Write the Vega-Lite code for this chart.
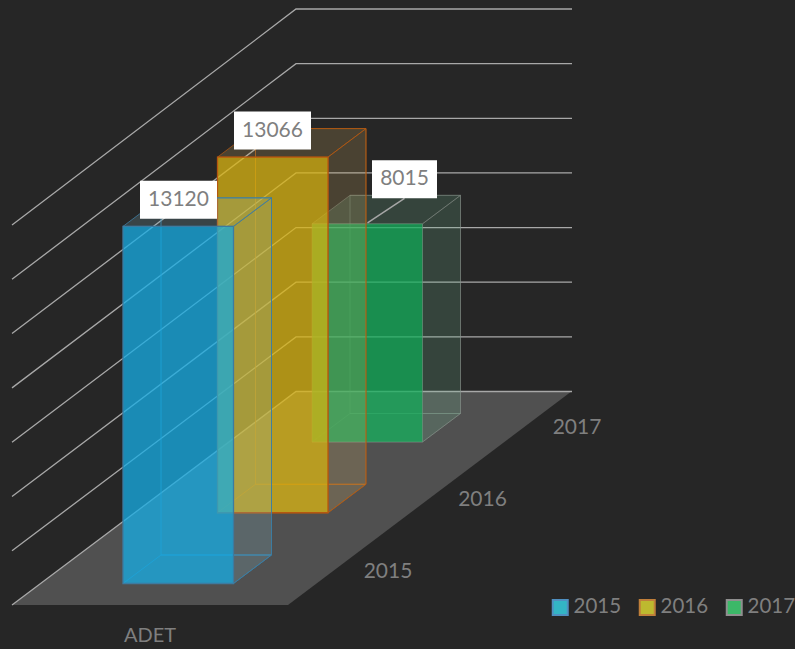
{"$schema":"https://vega.github.io/schema/vega-lite/v6.json","width":795,"height":649,"autosize":{"type":"fit","contains":"padding"},"padding":0,"background":"#262626","config":{"view":{"stroke":null}},
"datasets":{"bars":[{"year":"2015","value":13120},{"year":"2016","value":13066},{"year":"2017","value":8015}],"ticks":[{"tick":0},{"tick":2000},{"tick":4000},{"tick":6000},{"tick":8000},{"tick":10000},{"tick":12000},{"tick":14000}],"category":[{"category":"ADET"}]},
"layer":[
{"data":{"values":[{"t":0},{"t":1}]},"transform":[{"calculate":"605-214*datum.t","as":"y"},{"calculate":"12+284*datum.t","as":"xa"},{"calculate":"288+284*datum.t","as":"xb"}],"mark":{"type":"area","orient":"horizontal","fill":"#505050"},"encoding":{"y":{"field":"y","type":"quantitative","scale":{"domain":[649,0],"nice":false,"zero":false},"axis":null},"x":{"field":"xa","type":"quantitative","scale":{"domain":[0,795],"nice":false,"zero":false},"axis":null},"x2":{"field":"xb"}}},
{"data":{"name":"ticks"},"transform":[{"calculate":"[0,1,2]","as":"p"},{"flatten":["p"]},{"calculate":"[12,296,572][datum.p]","as":"x"},{"calculate":"datum.p==0?605-datum.tick*0.02714:391.5-datum.tick*0.02732","as":"y"}],"mark":{"type":"line","stroke":"#a8a8a8","strokeWidth":1.3,"interpolate":"linear"},"encoding":{"x":{"field":"x","type":"quantitative","scale":{"domain":[0,795],"nice":false,"zero":false},"axis":null},"y":{"field":"y","type":"quantitative","scale":{"domain":[649,0],"nice":false,"zero":false},"axis":null},"detail":{"field":"tick"},"order":{"field":"p"}}},
{"data":{"name":"bars"},"transform":[{"calculate":"[0,1]","as":"t"},{"flatten":["t"]},{"calculate":"indexof(['2015','2016','2017'],datum.year)","as":"depth"},{"calculate":"123+94.5*datum.depth","as":"xl"},{"calculate":"datum.xl+110.5","as":"xr"},{"calculate":"583.5-70.75*datum.depth","as":"yb"},{"calculate":"datum.yb-datum.value*0.02722","as":"yt"},{"calculate":"datum.xl+110.5*datum.t","as":"xf"},{"calculate":"datum.xl+38+110.5*datum.t","as":"xk"},{"calculate":"datum.xl+38*datum.t","as":"xlb"},{"calculate":"datum.xr+38*datum.t","as":"xs"},{"calculate":"datum.yt-28.5*datum.t","as":"yts"},{"calculate":"datum.yb-28.5*datum.t","as":"ybs"},{"calculate":"datum.yt-28.5","as":"ytk"},{"calculate":"datum.yb-28.5","as":"ybk"}],
"encoding":{"x":{"type":"quantitative","scale":{"domain":[0,795],"nice":false,"zero":false},"axis":null},"y":{"type":"quantitative","scale":{"domain":[649,0],"nice":false,"zero":false},"axis":null}},
"layer":[
{"transform":[{"filter":"datum.year=='2017'"}],"layer":[
{"mark":{"type":"area","orient":"vertical","fillOpacity":0,"stroke":"#8a9a90","strokeWidth":1,"strokeOpacity":0.4},"encoding":{"x":{"field":"xk"},"y":{"field":"ytk"},"y2":{"field":"ybk"}}},
{"mark":{"type":"area","orient":"horizontal","fillOpacity":0,"stroke":"#8a9a90","strokeWidth":1,"strokeOpacity":0.4},"encoding":{"y":{"field":"ybs"},"x":{"field":"xlb"},"x2":{"field":"xs"}}},
{"mark":{"type":"area","orient":"vertical","fill":"#71BC94","fillOpacity":0.2,"stroke":"#8a8f8a","strokeWidth":1,"strokeOpacity":0.45},"encoding":{"x":{"field":"xs"},"y":{"field":"yts"},"y2":{"field":"ybs"}}},
{"mark":{"type":"area","orient":"horizontal","fill":"#71BC94","fillOpacity":0.2,"stroke":"#8a8f8a","strokeWidth":1,"strokeOpacity":0.45},"encoding":{"y":{"field":"yts"},"x":{"field":"xlb"},"x2":{"field":"xs"}}},
{"mark":{"type":"area","orient":"vertical","fill":"#16B15E","fillOpacity":0.75,"stroke":"#7f8f85","strokeWidth":1,"strokeOpacity":0.4},"encoding":{"x":{"field":"xf"},"y":{"field":"yt"},"y2":{"field":"yb"}}}
]},
{"transform":[{"filter":"datum.year=='2016'"}],"layer":[
{"mark":{"type":"area","orient":"vertical","fillOpacity":0,"stroke":"#c0620f","strokeWidth":1,"strokeOpacity":0.7},"encoding":{"x":{"field":"xk"},"y":{"field":"ytk"},"y2":{"field":"ybk"}}},
{"mark":{"type":"area","orient":"horizontal","fillOpacity":0,"stroke":"#c0620f","strokeWidth":1,"strokeOpacity":0.7},"encoding":{"y":{"field":"ybs"},"x":{"field":"xlb"},"x2":{"field":"xs"}}},
{"mark":{"type":"area","orient":"vertical","fill":"#DAB262","fillOpacity":0.2,"stroke":"#b5570f","strokeWidth":1,"strokeOpacity":0.7},"encoding":{"x":{"field":"xs"},"y":{"field":"yts"},"y2":{"field":"ybs"}}},
{"mark":{"type":"area","orient":"horizontal","fill":"#DAB262","fillOpacity":0.2,"stroke":"#b5570f","strokeWidth":1,"strokeOpacity":0.7},"encoding":{"y":{"field":"yts"},"x":{"field":"xlb"},"x2":{"field":"xs"}}},
{"mark":{"type":"area","orient":"vertical","fill":"#DBB613","fillOpacity":0.75,"stroke":"#b5570f","strokeWidth":1.3,"strokeOpacity":1},"encoding":{"x":{"field":"xf"},"y":{"field":"yt"},"y2":{"field":"yb"}}}
]},
{"transform":[{"filter":"datum.year=='2015'"}],"layer":[
{"mark":{"type":"area","orient":"vertical","fillOpacity":0,"stroke":"#2a86b5","strokeWidth":1,"strokeOpacity":0.8},"encoding":{"x":{"field":"xk"},"y":{"field":"ytk"},"y2":{"field":"ybk"}}},
{"mark":{"type":"area","orient":"horizontal","fillOpacity":0,"stroke":"#2a86b5","strokeWidth":1,"strokeOpacity":0.8},"encoding":{"y":{"field":"ybs"},"x":{"field":"xlb"},"x2":{"field":"xs"}}},
{"mark":{"type":"area","orient":"vertical","fill":"#87BECD","fillOpacity":0.2,"stroke":"#3d7ba0","strokeWidth":1,"strokeOpacity":0.8},"encoding":{"x":{"field":"xs"},"y":{"field":"yts"},"y2":{"field":"ybs"}}},
{"mark":{"type":"area","orient":"horizontal","fill":"#87BECD","fillOpacity":0.2,"stroke":"#3d7ba0","strokeWidth":1,"strokeOpacity":0.8},"encoding":{"y":{"field":"yts"},"x":{"field":"xlb"},"x2":{"field":"xs"}}},
{"mark":{"type":"area","orient":"vertical","fill":"#17AEE5","fillOpacity":0.75,"stroke":"#3d7ba0","strokeWidth":1.3,"strokeOpacity":1},"encoding":{"x":{"field":"xf"},"y":{"field":"yt"},"y2":{"field":"yb"}}}
]}
]},
{"data":{"name":"bars"},"transform":[{"calculate":"indexof(['2015','2016','2017'],datum.year)","as":"depth"},{"calculate":"583.5-70.75*datum.depth-datum.value*0.02722","as":"yt"},{"calculate":"178.5+94*datum.depth+(datum.year=='2017'?38:0)","as":"lx"},{"calculate":"datum.yt-26.5-(datum.year=='2017'?18:0)","as":"ly"},{"calculate":"datum.lx-(datum.value>=10000?38.5:32.5)","as":"bx"},{"calculate":"datum.lx+(datum.value>=10000?38.5:32.5)","as":"bx2"},{"calculate":"datum.ly-19","as":"by"},{"calculate":"datum.ly+19","as":"by2"},{"calculate":"388+94.5*datum.depth","as":"ax"},{"calculate":"571.5-72*datum.depth","as":"ay"},{"calculate":"datum.yt-1","as":"ly0"},{"calculate":"datum.lx-37","as":"lx0"}],
"encoding":{"x":{"type":"quantitative","scale":{"domain":[0,795],"nice":false,"zero":false},"axis":null},"y":{"type":"quantitative","scale":{"domain":[649,0],"nice":false,"zero":false},"axis":null}},
"layer":[
{"transform":[{"filter":"datum.year=='2017'"}],"mark":{"type":"rule","stroke":"#a6a6a6","strokeWidth":1.5},"encoding":{"x":{"field":"lx0"},"y":{"field":"ly0"},"x2":{"field":"lx"},"y2":{"field":"by2"}}},
{"mark":{"type":"rect","fill":"#ffffff"},"encoding":{"x":{"field":"bx"},"x2":{"field":"bx2"},"y":{"field":"by"},"y2":{"field":"by2"}}},
{"mark":{"type":"text","font":"Lato","fontSize":21,"fill":"#7f7f7f","align":"center","baseline":"middle"},"encoding":{"x":{"field":"lx"},"y":{"field":"ly"},"text":{"field":"value","type":"quantitative","format":"d"}}},
{"mark":{"type":"text","font":"Lato","fontSize":21,"fill":"#7f7f7f","align":"center","baseline":"middle"},"encoding":{"x":{"field":"ax"},"y":{"field":"ay"},"text":{"field":"year","type":"nominal"}}},
{"mark":{"type":"point","filled":true,"shape":"square","opacity":0},"encoding":{"x":{"field":"lx"},"y":{"field":"ly"},
"fill":{"field":"year","type":"nominal","scale":{"domain":["2015","2016","2017"],"range":["#33b5c5","#bdb92f","#3cb868"]},"legend":{"orient":"none","legendX":550,"legendY":597,"direction":"horizontal","columns":3,"title":null,"symbolType":"square","symbolSize":225,"symbolStrokeWidth":2,"symbolOpacity":1,"labelFont":"Lato","labelFontSize":20.5,"labelColor":"#7f7f7f","columnPadding":13,"labelOffset":3,"padding":0}},
"stroke":{"field":"year","type":"nominal","scale":{"domain":["2015","2016","2017"],"range":["#4f8fc0","#c07f3a","#8f8f8f"]},"legend":{"orient":"none","legendX":550,"legendY":597,"direction":"horizontal","columns":3,"title":null,"symbolType":"square","symbolSize":225,"symbolStrokeWidth":2,"symbolOpacity":1,"labelFont":"Lato","labelFontSize":20.5,"labelColor":"#7f7f7f","columnPadding":13,"labelOffset":3,"padding":0}}}}
]},
{"data":{"name":"category"},"transform":[{"calculate":"150","as":"x"},{"calculate":"636","as":"y"}],"mark":{"type":"text","font":"Lato","fontSize":20,"fill":"#7f7f7f","align":"center","baseline":"middle"},"encoding":{"x":{"field":"x","type":"quantitative","scale":{"domain":[0,795],"nice":false,"zero":false},"axis":null},"y":{"field":"y","type":"quantitative","scale":{"domain":[649,0],"nice":false,"zero":false},"axis":null},"text":{"field":"category","type":"nominal"}}}
]}
